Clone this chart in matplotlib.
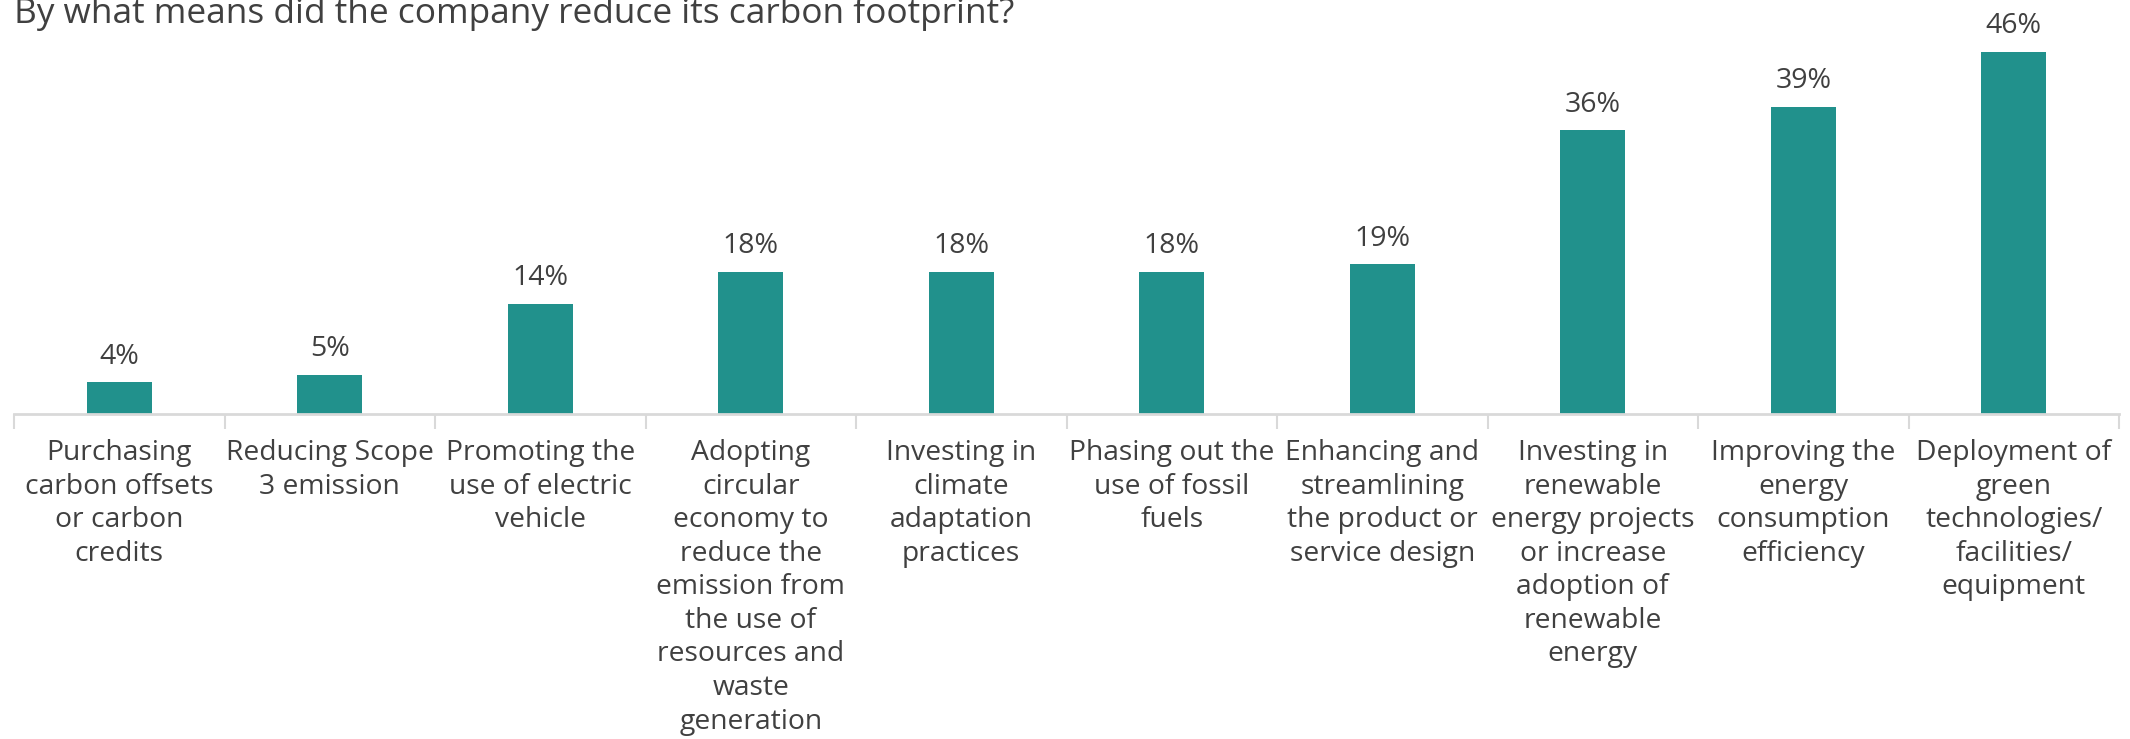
import numpy as np
import matplotlib
matplotlib.use("Agg")
import matplotlib.pyplot as plt

# Survey responses: share of companies using each measure
categories = [
    "Purchasing\ncarbon offsets\nor carbon\ncredits",
    "Reducing Scope\n3 emission",
    "Promoting the\nuse of electric\nvehicle",
    "Adopting\ncircular\neconomy to\nreduce the\nemission from\nthe use of\nresources and\nwaste\ngeneration",
    "Investing in\nclimate\nadaptation\npractices",
    "Phasing out the\nuse of fossil\nfuels",
    "Enhancing and\nstreamlining\nthe product or\nservice design",
    "Investing in\nrenewable\nenergy projects\nor increase\nadoption of\nrenewable\nenergy",
    "Improving the\nenergy\nconsumption\nefficiency",
    "Deployment of\ngreen\ntechnologies/\nfacilities/\nequipment",
]
shares = [4, 5, 14, 18, 18, 18, 19, 36, 39, 46]

title = "By what means did the company reduce its carbon footprint?"

bar_color = "#21918C"
text_color = "#404040"
axis_color = "#D9D9D9"

plt.rcParams['font.family'] = ['Open Sans', 'DejaVu Sans']

W, H = 2130, 739
fig = plt.figure(figsize=(W / 100, H / 100), dpi=100)
ax = fig.add_axes([14 / W, 325 / H, 2105 / W, 414 / H])

x = np.arange(len(categories))
bars = ax.bar(x, shares, width=0.31, color=bar_color, zorder=2)

for b, v in zip(bars, shares):
    ax.annotate(f"{v}%", (b.get_x() + b.get_width() / 2, v),
                xytext=(0, 13.5), textcoords="offset points",
                ha="center", va="baseline", fontsize=20.5, color=text_color)

ax.set_xlim(-0.5, len(categories) - 0.5)
ax.set_ylim(0, 52.55)

# category labels centred under each bar, tick marks on the boundaries
ax.set_xticks(x)
ax.set_xticklabels(categories, fontsize=20.3, color=text_color, linespacing=1.265)
ax.tick_params(axis="x", which="major", length=0, pad=18)
ax.set_xticks(np.arange(-0.5, len(categories)), minor=True)
ax.tick_params(axis="x", which="minor", length=11, width=1.5, color=axis_color)
ax.set_yticks([])

for side in ["top", "right", "left"]:
    ax.spines[side].set_visible(False)
ax.spines["bottom"].set_color(axis_color)
ax.spines["bottom"].set_linewidth(2)

fig.text(14 / W, 1 - 23 / H, title, fontsize=25.4, color=text_color,
         ha="left", va="baseline")

fig.savefig("out.png", dpi=100)
